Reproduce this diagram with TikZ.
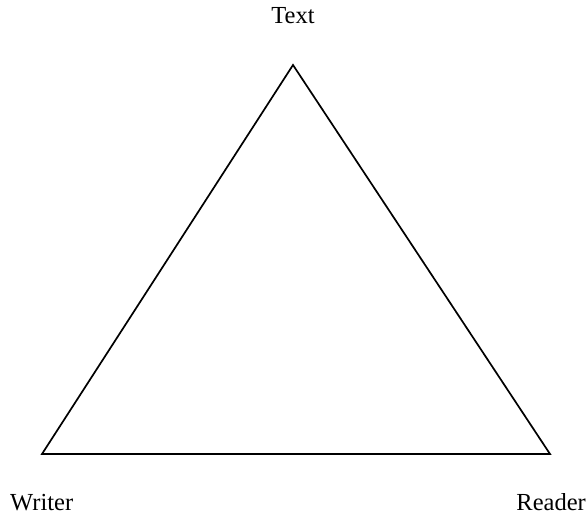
\documentclass[tikz,border=0pt]{standalone}
\usepackage{fontspec}
\setmainfont{Liberation Serif}
\begin{document}
\begin{tikzpicture}[x=1pt,y=-1pt,
  lbl/.style={font=\fontsize{24.5}{28}\selectfont, inner sep=0pt},
  edge/.style={line width=1.7pt, line join=miter}]
\useasboundingbox (0,0) rectangle (587,516);
\coordinate (t) at (293,65);
\coordinate (w) at (42,454);
\coordinate (r) at (550,454);
\draw[edge] (t) -- (w) -- (r) -- cycle;
\node[lbl, anchor=base] (text) at (293,24) {Text};
\node[lbl, anchor=base west] (writer) at (10,510) {Writer};
\node[lbl, anchor=base east] (reader) at (586,510) {Reader};
\end{tikzpicture}
\end{document}
